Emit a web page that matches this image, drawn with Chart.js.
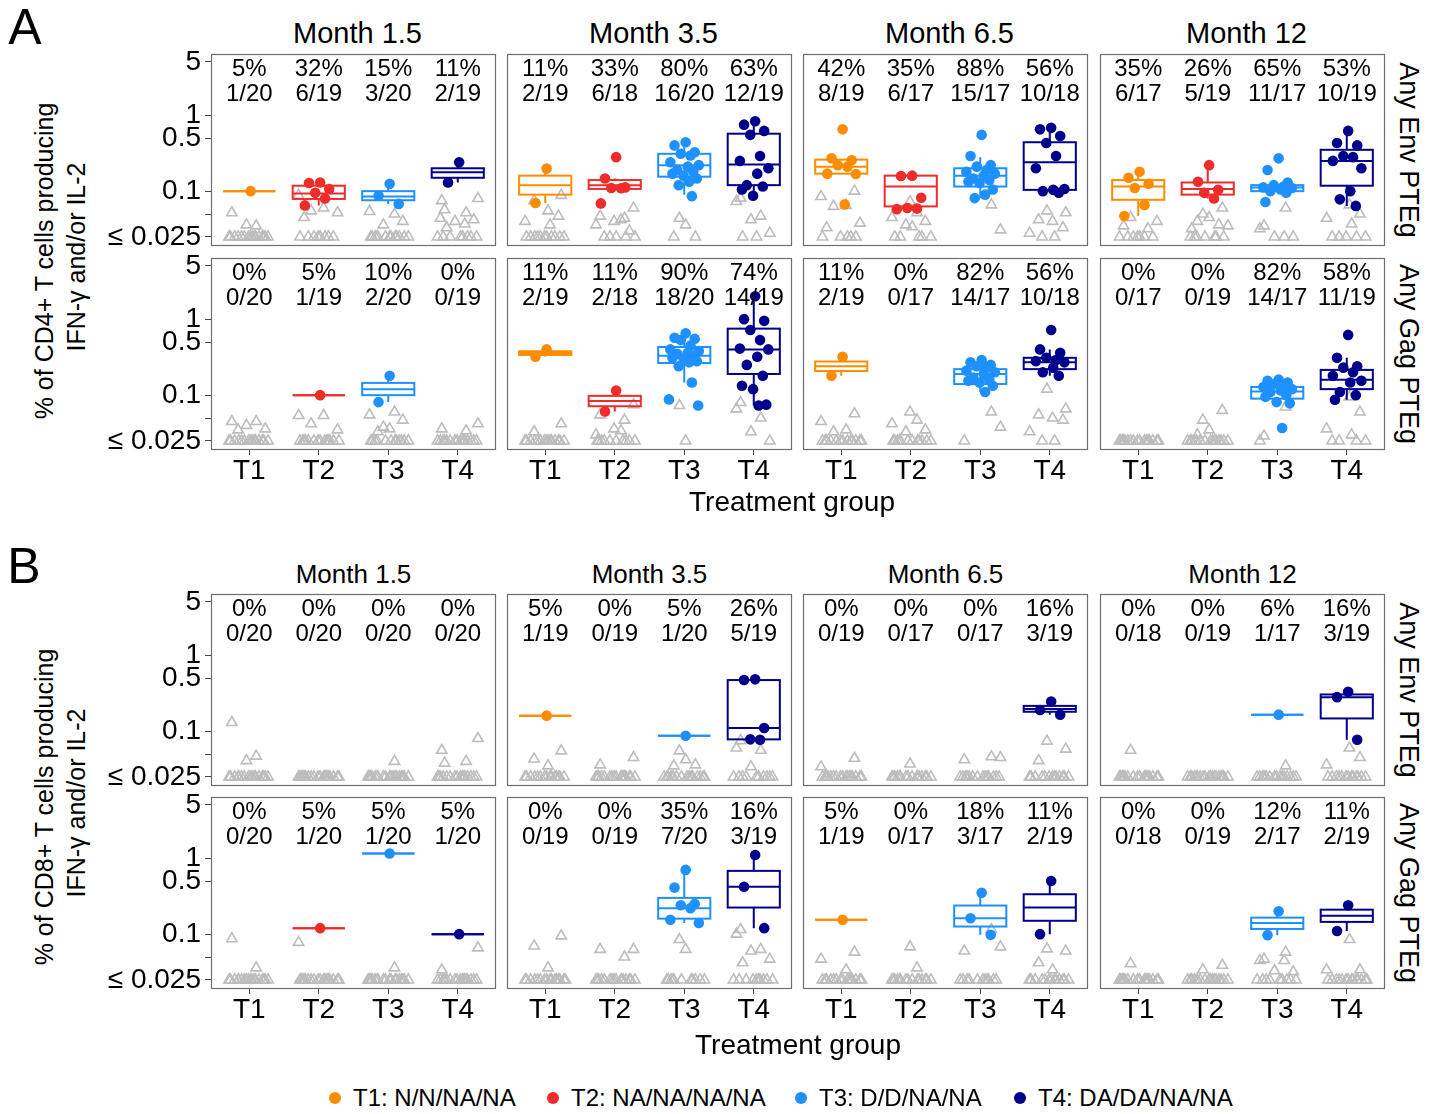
<!DOCTYPE html>
<html>
<head>
<meta charset="utf-8">
<script src="https://cdn.jsdelivr.net/npm/chart.js@4.4.0/dist/chart.umd.min.js"></script>
<style>
  body { margin: 0; background: #fff; }
  #page { position: relative; width: 1435px; height: 1114px; overflow: hidden;
          font-family: "Liberation Sans", Arial, Helvetica, sans-serif; color: #000; }
  .lbl { position: absolute; white-space: nowrap; line-height: 1; }
  .key { position: absolute; width: 12px; height: 12px; border-radius: 50%; transform: translate(-50%, -50%); }
  canvas { position: absolute; }
</style>
</head>
<body>
<div id="page"></div>
<script>
const months = ['Month 1.5', 'Month 3.5', 'Month 6.5', 'Month 12'];
const groups = ['T1', 'T2', 'T3', 'T4'];
const groupNames = ['T1: N/N/NA/NA', 'T2: NA/NA/NA/NA', 'T3: D/D/NA/NA', 'T4: DA/DA/NA/NA'];
const stripLabels = ['Any Env PTEg', 'Any Gag PTEg'];
const yTicks = [5, 1, 0.5, 0.1, 0.05, 0.025];
const yTickLabels = ['5', '1', '0.5', '0.1', '', '≤ 0.025'];
const floorValue = 0.025;

// participants per group, [month][group]
const cd4EnvTotals = [[20, 19, 20, 19], [19, 18, 20, 19], [19, 17, 17, 18], [17, 19, 17, 19]];
const cd4GagTotals = [[20, 19, 20, 19], [19, 18, 20, 19], [19, 17, 17, 18], [17, 19, 17, 19]];
const cd8EnvTotals = [[20, 20, 20, 20], [19, 19, 20, 19], [19, 17, 17, 19], [18, 19, 17, 19]];
const cd8GagTotals = [[20, 20, 20, 20], [19, 19, 20, 19], [19, 17, 17, 19], [18, 19, 17, 19]];

// responders (% of T cells), [month][group]
const cd4EnvDots = [
  [[0.1], [0.13, 0.128, 0.107, 0.095, 0.08, 0.065], [0.125, 0.087, 0.068], [0.24, 0.13]],
  [[0.198, 0.07], [0.28, 0.147, 0.112, 0.11, 0.109, 0.069],
   [0.44, 0.40, 0.325, 0.31, 0.295, 0.24, 0.22, 0.21, 0.19, 0.18, 0.17, 0.16, 0.147, 0.133, 0.12, 0.086],
   [0.83, 0.75, 0.62, 0.55, 0.29, 0.25, 0.2, 0.17, 0.12, 0.115, 0.105, 0.087]],
  [[0.65, 0.27, 0.255, 0.22, 0.21, 0.17, 0.168, 0.067], [0.16, 0.158, 0.082, 0.06, 0.059, 0.058],
   [0.55, 0.29, 0.22, 0.21, 0.19, 0.18, 0.17, 0.16, 0.147, 0.14, 0.133, 0.128, 0.105, 0.09, 0.081],
   [0.68, 0.65, 0.53, 0.43, 0.29, 0.2, 0.107, 0.104, 0.1, 0.095]],
  [[0.18, 0.15, 0.125, 0.11, 0.066, 0.047], [0.22, 0.133, 0.104, 0.095, 0.08],
   [0.27, 0.19, 0.13, 0.12, 0.115, 0.112, 0.11, 0.105, 0.1, 0.095, 0.072],
   [0.62, 0.43, 0.4, 0.29, 0.28, 0.25, 0.2, 0.1, 0.078, 0.064]]
];
const cd4GagDots = [
  [[], [0.1], [0.18, 0.081], []],
  [[0.4, 0.32], [0.115, 0.061],
   [0.65, 0.57, 0.55, 0.53, 0.45, 0.40, 0.38, 0.36, 0.35, 0.33, 0.31, 0.30, 0.28, 0.27, 0.24, 0.147, 0.088, 0.073],
   [2.0, 1.0, 0.95, 0.72, 0.53, 0.41, 0.40, 0.32, 0.25, 0.18, 0.133, 0.12, 0.075, 0.073]],
  [[0.32, 0.18], [],
   [0.29, 0.27, 0.25, 0.24, 0.23, 0.21, 0.2, 0.19, 0.17, 0.16, 0.155, 0.147, 0.133, 0.11],
   [0.72, 0.4, 0.36, 0.31, 0.29, 0.28, 0.27, 0.23, 0.2, 0.18]],
  [[], [],
   [0.16, 0.155, 0.147, 0.14, 0.133, 0.128, 0.12, 0.115, 0.11, 0.1, 0.095, 0.081, 0.078, 0.037],
   [0.62, 0.31, 0.24, 0.23, 0.2, 0.18, 0.155, 0.147, 0.11, 0.1, 0.087]]
];
const cd8EnvDots = [
  [[], [], [], []],
  [[0.16], [], [0.087], [0.48, 0.47, 0.11, 0.078, 0.077]],
  [[], [], [], [0.245, 0.19, 0.165]],
  [[], [], [0.165], [0.33, 0.28, 0.077]]
];
const cd8GagDots = [
  [[], [0.12], [1.15], [0.1]],
  [[], [], [0.7, 0.41, 0.25, 0.24, 0.22, 0.155, 0.14], [1.1, 0.42, 0.12]],
  [[0.155], [], [0.35, 0.162, 0.098], [0.5, 0.1]],
  [[], [], [0.2, 0.097], [0.24, 0.11]]
];

// box stats [lower whisker, q1, median, q3, upper whisker], null = no responders
const cd4EnvBoxes = [
  [[0.1, 0.1, 0.1, 0.1, 0.1], [0.065, 0.079, 0.093, 0.118, 0.13], [0.068, 0.076, 0.085, 0.1, 0.125], [0.13, 0.15, 0.178, 0.2, 0.24]],
  [[0.07, 0.09, 0.12, 0.16, 0.198], [0.107, 0.107, 0.12, 0.14, 0.147], [0.09, 0.155, 0.22, 0.31, 0.44], [0.087, 0.12, 0.225, 0.57, 0.83]],
  [[0.168, 0.17, 0.21, 0.26, 0.26], [0.058, 0.063, 0.115, 0.16, 0.16], [0.081, 0.115, 0.16, 0.2, 0.28], [0.095, 0.104, 0.24, 0.44, 0.68]],
  [[0.047, 0.077, 0.115, 0.14, 0.18], [0.08, 0.09, 0.107, 0.13, 0.22], [0.1, 0.1, 0.112, 0.12, 0.12], [0.064, 0.118, 0.25, 0.35, 0.62]]
];
const cd4GagBoxes = [
  [null, [0.1, 0.1, 0.1, 0.1, 0.1], [0.081, 0.1, 0.12, 0.145, 0.18], null],
  [[0.32, 0.338, 0.358, 0.378, 0.4], [0.061, 0.0715, 0.084, 0.098, 0.115], [0.147, 0.265, 0.33, 0.43, 0.65], [0.073, 0.19, 0.4, 0.75, 2.0]],
  [[0.18, 0.208, 0.24, 0.277, 0.32], null, [0.11, 0.14, 0.19, 0.22, 0.29], [0.18, 0.22, 0.27, 0.31, 0.4]],
  [null, null, [0.078, 0.09, 0.112, 0.128, 0.16], [0.087, 0.12, 0.16, 0.215, 0.31]]
];
const cd8EnvBoxes = [
  [null, null, null, null],
  [[0.16, 0.16, 0.16, 0.16, 0.16], null, [0.087, 0.087, 0.087, 0.087, 0.087], [0.077, 0.078, 0.11, 0.47, 0.48]],
  [null, null, null, [0.165, 0.18, 0.195, 0.215, 0.245]],
  [null, null, [0.165, 0.165, 0.165, 0.165, 0.165], [0.077, 0.147, 0.28, 0.304, 0.33]]
];
const cd8GagBoxes = [
  [null, [0.12, 0.12, 0.12, 0.12, 0.12], [1.15, 1.15, 1.15, 1.15, 1.15], [0.1, 0.1, 0.1, 0.1, 0.1]],
  [null, null, [0.14, 0.16, 0.22, 0.3, 0.7], [0.12, 0.224, 0.42, 0.68, 1.1]],
  [[0.155, 0.155, 0.155, 0.155, 0.155], null, [0.098, 0.126, 0.162, 0.238, 0.35], [0.1, 0.15, 0.224, 0.335, 0.5]],
  [null, null, [0.097, 0.117, 0.14, 0.165, 0.2], [0.11, 0.145, 0.175, 0.21, 0.24]]
];

// non-responders above the 0.025 floor; the rest sit at the floor
const cd4EnvRaised = [
  [[0.052, 0.035, 0.036], [0.088, 0.06, 0.055, 0.052, 0.045], [0.05, 0.054, 0.04, 0.036],
   [0.08, 0.075, 0.052, 0.057, 0.044, 0.037, 0.04, 0.042, 0.033]],
  [[0.088, 0.075, 0.055, 0.047, 0.04, 0.036], [0.06, 0.047, 0.044, 0.04, 0.042, 0.036, 0.03], [0.044, 0.036],
   [0.081, 0.073, 0.047, 0.042, 0.028]],
  [[0.1, 0.085, 0.065, 0.063, 0.038, 0.033], [0.073, 0.052, 0.045, 0.04, 0.036, 0.034], [0.066, 0.031],
   [0.055, 0.052, 0.042, 0.04, 0.033, 0.028]],
  [[0.045, 0.04, 0.035, 0.032], [0.06, 0.05, 0.045, 0.04, 0.036, 0.035, 0.032], [0.06, 0.035, 0.032],
   [0.066, 0.05, 0.044, 0.037]]
];
const cd4GagRaised = [
  [[0.045, 0.045, 0.04, 0.036, 0.035], [0.054, 0.054, 0.042, 0.035], [0.06, 0.055, 0.047, 0.038, 0.036, 0.033], [0.042, 0.036, 0.034]],
  [[0.042, 0.033], [0.075, 0.055, 0.047, 0.036, 0.034, 0.03], [0.073], [0.08, 0.066, 0.05, 0.033]],
  [[0.057, 0.045, 0.035, 0.033], [0.06, 0.047, 0.042, 0.035, 0.033], [0.06, 0.038], [0.12, 0.066, 0.055, 0.05, 0.047, 0.033]],
  [[], [0.063, 0.047, 0.035, 0.03], [0.07, 0.029], [0.095, 0.06, 0.036, 0.03]]
];
const cd8EnvRaised = [
  [[0.13, 0.047, 0.041], [], [0.04], [0.08, 0.056, 0.04, 0.038]],
  [[0.055, 0.043, 0.035], [0.045, 0.036], [0.055, 0.042, 0.035, 0.036], [0.075, 0.06, 0.056, 0.034]],
  [[0.044, 0.034], [0.037], [0.046, 0.045, 0.042], [0.074, 0.058, 0.041]],
  [[0.056], [], [0.035], [0.06, 0.045, 0.036]]
];
const cd8GagRaised = [
  [[0.087, 0.036], [0.078], [0.036], [0.066, 0.034]],
  [[0.095, 0.07, 0.036], [0.063, 0.063, 0.05], [0.085, 0.063], [0.115, 0.1, 0.063, 0.06, 0.047, 0.042]],
  [[0.058, 0.047, 0.034], [0.068, 0.036], [0.115, 0.068, 0.06], [0.064, 0.06, 0.042, 0.034]],
  [[0.041], [0.039, 0.034], [0.058, 0.047, 0.045, 0.045, 0.033, 0.032], [0.085, 0.034, 0.034]]
];

// ========================
// Layout and styling
// ========================
const FONT = '"Liberation Sans", Arial, Helvetica, sans-serif';
const groupColors = ['#FF8C00', '#EE2C2C', '#1E90FF', '#00008B'];
const triColor = '#bdbdbd';
const COL_LEFT = [211, 507, 803, 1100];
const PANEL_W = 285, PANEL_H = 192;
const AXIS_W = 120, AXIS_H = 44, PAD = 3;
const Y_MIN = 0.019, Y_MAX = 6.37;
const X_MIN = 0.45, X_MAX = 4.55, BOX_HALF = 0.375;

// fixed horizontal jitter offsets, in category units
const DOT_JITTER = [0.02, -0.14, 0.15, -0.05, 0.09, -0.2, 0.21, 0.05, -0.1, 0.13, -0.17, -0.01, 0.18, 0.07, -0.08, 0.11, -0.22, 0.2];
const TRI_JITTER = [-0.25, 0.1, -0.04, 0.23, -0.16, 0.04, 0.19, -0.29, 0.07, -0.11, 0.27, -0.21, 0.14, -0.01, 0.09, -0.27, 0.21, -0.07, 0.02, -0.15, 0.16, 0.29, -0.23, 0.12, -0.19];

const rows = [
  { top: 54,  totals: cd4EnvTotals, dots: cd4EnvDots, boxes: cd4EnvBoxes, raised: cd4EnvRaised, strip: 0, bottom: false },
  { top: 258, totals: cd4GagTotals, dots: cd4GagDots, boxes: cd4GagBoxes, raised: cd4GagRaised, strip: 1, bottom: true },
  { top: 594, totals: cd8EnvTotals, dots: cd8EnvDots, boxes: cd8EnvBoxes, raised: cd8EnvRaised, strip: 0, bottom: false },
  { top: 797, totals: cd8GagTotals, dots: cd8GagDots, boxes: cd8GagBoxes, raised: cd8GagRaised, strip: 1, bottom: true }
];

Chart.defaults.font.family = FONT;
const page = document.getElementById('page');
const panelInfo = new WeakMap();

function addText(text, x, y, size, rot = 0) {
  const d = document.createElement('div');
  d.className = 'lbl';
  d.textContent = text;
  d.style.left = x + 'px';
  d.style.top = y + 'px';
  d.style.fontSize = size + 'px';
  d.style.transform = `translate(-50%, -50%) rotate(${rot}deg)`;
  page.appendChild(d);
  return d;
}

// ========================
// Boxes, counts and panel frame
// ========================
function drawBoxes(chart, info) {
  const { ctx } = chart;
  const xs = chart.scales.x, ys = chart.scales.y;
  ctx.save();
  ctx.lineWidth = 2;
  info.boxes.forEach((b, gi) => {
    if (!b) return;
    const [lo, q1, med, q3, hi] = b.map(v => ys.getPixelForValue(v));
    const cx = xs.getPixelForValue(gi + 1);
    const x0 = xs.getPixelForValue(gi + 1 - BOX_HALF);
    const x1 = xs.getPixelForValue(gi + 1 + BOX_HALF);
    ctx.strokeStyle = groupColors[gi];
    ctx.beginPath();
    ctx.moveTo(cx, q3); ctx.lineTo(cx, hi);
    ctx.moveTo(cx, q1); ctx.lineTo(cx, lo);
    ctx.stroke();
    ctx.strokeRect(x0, q3, x1 - x0, q1 - q3);
    ctx.beginPath();
    ctx.moveTo(x0, med); ctx.lineTo(x1, med);
    ctx.stroke();
  });
  ctx.restore();
}

const panelPlugin = {
  id: 'panelDecor',
  beforeDatasetsDraw(chart) { chart.$boxesDone = false; },
  beforeDatasetDraw(chart, args) {
    if (chart.$boxesDone || chart.data.datasets[args.index].kind !== 'dot') return;
    chart.$boxesDone = true;
    drawBoxes(chart, panelInfo.get(chart.canvas));
  },
  afterDraw(chart) {
    const info = panelInfo.get(chart.canvas);
    const { ctx, chartArea: a } = chart;
    const xs = chart.scales.x;
    ctx.save();
    ctx.fillStyle = '#000';
    ctx.textAlign = 'center';
    ctx.textBaseline = 'alphabetic';
    ctx.font = '24px ' + FONT;
    groups.forEach((g, gi) => {
      const n = info.counts[gi], tot = info.totals[gi];
      const x = xs.getPixelForValue(gi + 1);
      ctx.fillText(Math.round(100 * n / tot) + '%', x, a.top + 22);
      ctx.fillText(n + '/' + tot, x, a.top + 47);
    });
    ctx.strokeStyle = '#6e6e6e';
    ctx.lineWidth = 1.2;
    ctx.strokeRect(a.left + 0.5, a.top + 0.5, a.right - a.left - 1, a.bottom - a.top - 1);
    ctx.restore();
  }
};

function panelDatasets(row, m) {
  const sets = [];
  groups.forEach((g, gi) => {
    const dots = row.dots[m][gi];
    const tri = row.raised[m][gi].slice();
    const floorCount = row.totals[m][gi] - dots.length - tri.length;
    for (let k = 0; k < floorCount; k++) tri.push(floorValue);
    sets.push({
      kind: 'tri', order: 2,
      data: tri.map((v, i) => ({ x: gi + 1 + TRI_JITTER[(i + gi * 7 + m * 3) % TRI_JITTER.length], y: v })),
      pointStyle: 'triangle', pointRadius: 6,
      pointBackgroundColor: 'rgba(0,0,0,0)', pointBorderColor: triColor, pointBorderWidth: 1.6
    });
    sets.push({
      kind: 'dot', order: 1,
      data: dots.map((v, i) => ({ x: gi + 1 + DOT_JITTER[i % DOT_JITTER.length], y: v })),
      pointStyle: 'circle', pointRadius: 5.3,
      pointBackgroundColor: groupColors[gi], pointBorderColor: groupColors[gi], pointBorderWidth: 0
    });
  });
  return sets;
}

function makePanel(row, m) {
  const left = m === 0;
  const padL = left ? 0 : PAD;
  const w = padL + (left ? AXIS_W : 0) + PANEL_W + PAD;
  const h = PAD + PANEL_H + (row.bottom ? AXIS_H : PAD);
  const canvas = document.createElement('canvas');
  canvas.width = w; canvas.height = h;
  canvas.style.width = w + 'px'; canvas.style.height = h + 'px';
  canvas.style.left = (COL_LEFT[m] - padL - (left ? AXIS_W : 0)) + 'px';
  canvas.style.top = (row.top - PAD) + 'px';
  page.appendChild(canvas);

  panelInfo.set(canvas, {
    boxes: row.boxes[m],
    counts: row.dots[m].map(d => d.length),
    totals: row.totals[m]
  });

  new Chart(canvas, {
    type: 'scatter',
    data: { datasets: panelDatasets(row, m) },
    options: {
      responsive: false, animation: false, devicePixelRatio: 1, events: [],
      layout: { autoPadding: false, padding: { top: PAD, right: PAD, left: padL, bottom: row.bottom ? 0 : PAD } },
      plugins: { legend: { display: false }, tooltip: { enabled: false } },
      scales: {
        x: {
          type: 'linear', min: X_MIN, max: X_MAX, display: row.bottom,
          afterBuildTicks: s => { s.ticks = groups.map((g, i) => ({ value: i + 1 })); },
          afterFit: s => {
            s.height = row.bottom ? AXIS_H : 0;
            s.paddingLeft = 0; s.paddingRight = 0;
          },
          ticks: { callback: (v, i) => groups[i], font: { size: 28, lineHeight: 1 }, color: '#000', padding: 2, maxRotation: 0, autoSkip: false },
          grid: { drawOnChartArea: false, tickLength: 5, color: '#444' },
          border: { display: false }
        },
        y: {
          type: 'logarithmic', min: Y_MIN, max: Y_MAX, display: left,
          afterBuildTicks: s => { s.ticks = yTicks.map(v => ({ value: v })); },
          afterFit: s => {
            s.width = left ? AXIS_W : 0;
            s.paddingTop = 0; s.paddingBottom = 0;
          },
          ticks: { callback: (v, i) => yTickLabels[i], font: { size: 28, lineHeight: 1 }, color: '#000', padding: 4, autoSkip: false },
          grid: { drawOnChartArea: false, tickLength: 6, color: '#444' },
          border: { display: false }
        }
      }
    },
    plugins: [panelPlugin]
  });
}

// ========================
// Build the figure
// ========================
rows.forEach(row => months.forEach((mo, m) => makePanel(row, m)));

const panelCenters = COL_LEFT.map(x => x + PANEL_W / 2);
const gridCenter = (COL_LEFT[0] + COL_LEFT[3] + PANEL_W) / 2;

// part letters and month strips
addText('A', 25, 27, 50);
addText('B', 24, 566, 50);
months.forEach((mo, m) => {
  addText(mo, panelCenters[m] + 4, 33, 29);
  addText(mo, panelCenters[m], 574, 26);
});

// right-hand strip labels
rows.forEach(row => addText(stripLabels[row.strip], 1408, row.top + PANEL_H / 2, 27, 90));

// axis titles
addText('Treatment group', gridCenter - 6, 502, 28);
addText('Treatment group', gridCenter, 1045, 28);
addText('% of CD4+ T cells producing', 44, 261, 25, -90);
addText('IFN-γ and/or IL-2', 76, 257, 25, -90);
addText('% of CD8+ T cells producing', 44, 807, 25, -90);
addText('IFN-γ and/or IL-2', 76, 803, 25, -90);

// legend
const keyX = [335, 553, 801, 1020];
groupNames.forEach((name, gi) => {
  const k = document.createElement('div');
  k.className = 'key';
  k.style.left = keyX[gi] + 'px';
  k.style.top = '1098px';
  k.style.background = groupColors[gi];
  page.appendChild(k);
  const t = addText(name, keyX[gi] + 18, 1098, 24);
  t.style.transform = 'translate(0, -50%)';
});
</script>
</body>
</html>
